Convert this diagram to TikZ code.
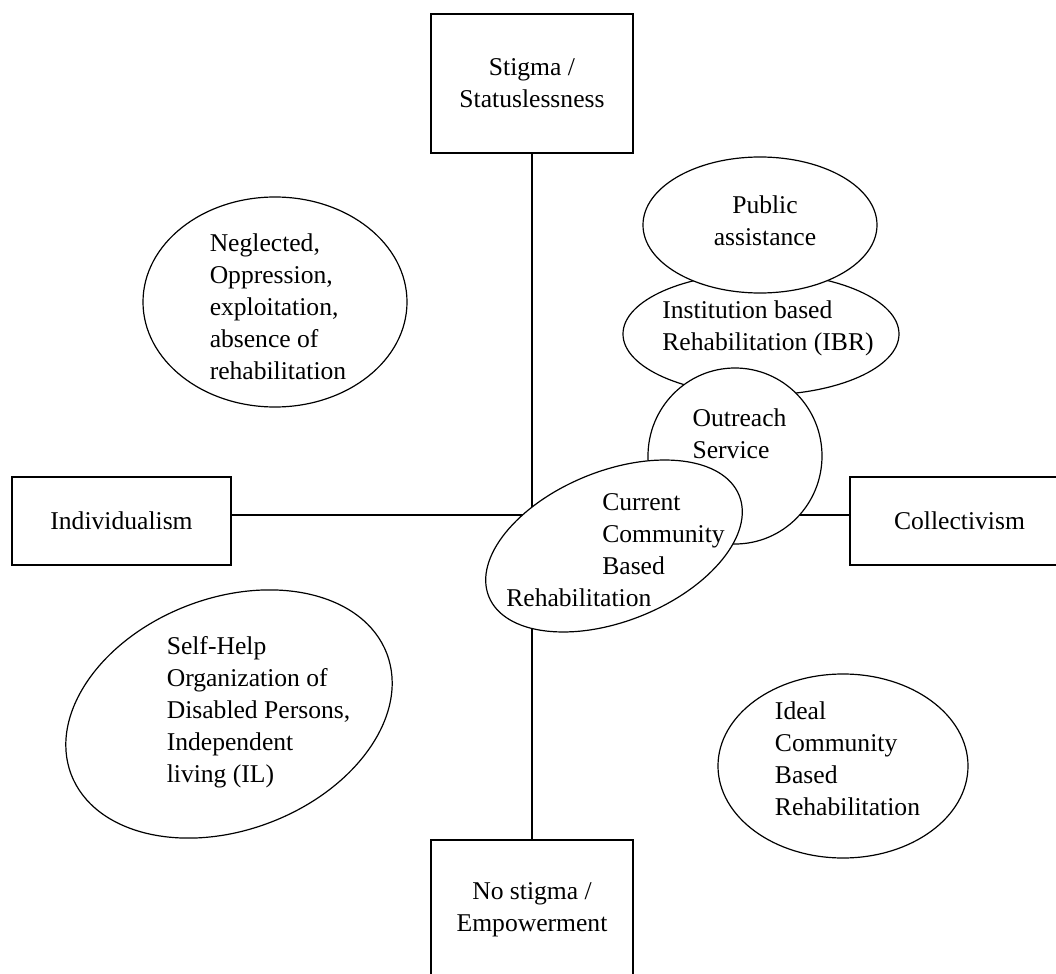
\documentclass[tikz,border=0pt]{standalone}
\usepackage{fontspec}
\setmainfont{Liberation Serif}
\usepackage{tikz}
\usetikzlibrary{shapes.geometric, positioning}
\tikzstyle{pole} = [rectangle, draw=black, fill=white, line width=0.6pt, minimum width=101pt, minimum height=69.5pt, align=center, inner sep=0pt]
\tikzstyle{sidepole} = [pole, minimum width=109.5pt, minimum height=44pt]
\tikzstyle{bubble} = [ellipse, draw=black, fill=white, line width=0.6pt, inner sep=0pt]
\tikzstyle{btext} = [align=left, inner sep=0pt]
\tikzstyle{axis} = [line width=0.6pt]

\begin{document}
\begin{tikzpicture}[x=0.5pt, y=-0.5pt, every node/.style={font=\fontsize{12.8}{16}\selectfont}]
\useasboundingbox (0,0) rectangle (1056,974);

% the four poles and the two axes
\node[pole] (stigma) at (532,83.5) {Stigma /\\Statuslessness};
\node[pole] (nostigma) at (532,909.5) {No stigma /\\Empowerment};
\node[sidepole] (indiv) at (121.5,521) {Individualism};
\node[sidepole] (collect) at (959.5,521) {Collectivism};

\draw[axis] (stigma) -- (nostigma);
\draw[axis] ([yshift=3pt]indiv.east) -- ([yshift=3pt]collect.west);

% quadrants
\node[bubble, minimum width=132pt, minimum height=105pt] (neglect) at (275,302) {};
\node[btext] (neglecttxt) at (278,307) {Neglected,\\Oppression,\\exploitation,\\absence of\\rehabilitation};

\node[bubble, minimum width=169pt, minimum height=116pt, rotate=21] (selfhelp) at (229,714) {};
\node[btext] (selfhelptxt) at (258.5,712) {Self-Help\\Organization of\\Disabled Persons,\\Independent\\living (IL)};

\node[bubble, minimum width=125pt, minimum height=92pt] (ideal) at (843,766) {};
\node[btext] (idealtxt) at (847.5,758.5) {Ideal\\Community\\Based\\Rehabilitation};

% stacked services, later ones on top
\node[bubble, minimum width=138pt, minimum height=61pt] (ibr) at (761,334) {};
\node[btext] (ibrtxt) at (768,328.5) {Institution based\\Rehabilitation (IBR)};

\node[bubble, minimum width=117pt, minimum height=68pt] (public) at (760,225) {};
\node[align=center, inner sep=0pt] (publictxt) at (765,221) {Public\\assistance};

\node[bubble, minimum width=87pt, minimum height=88pt] (outreach) at (735,456) {};
\node[btext] (outreachtxt) at (739.5,434) {Outreach\\Service};

\node[bubble, minimum width=135pt, minimum height=75pt, rotate=22] (cbr) at (614,546) {};
\node[btext] (cbrtxt) at (615.5,550.5) {\hspace*{48pt}Current\\ \hspace*{48pt}Community\\ \hspace*{48pt}Based\\ Rehabilitation};
\end{tikzpicture}
\end{document}
